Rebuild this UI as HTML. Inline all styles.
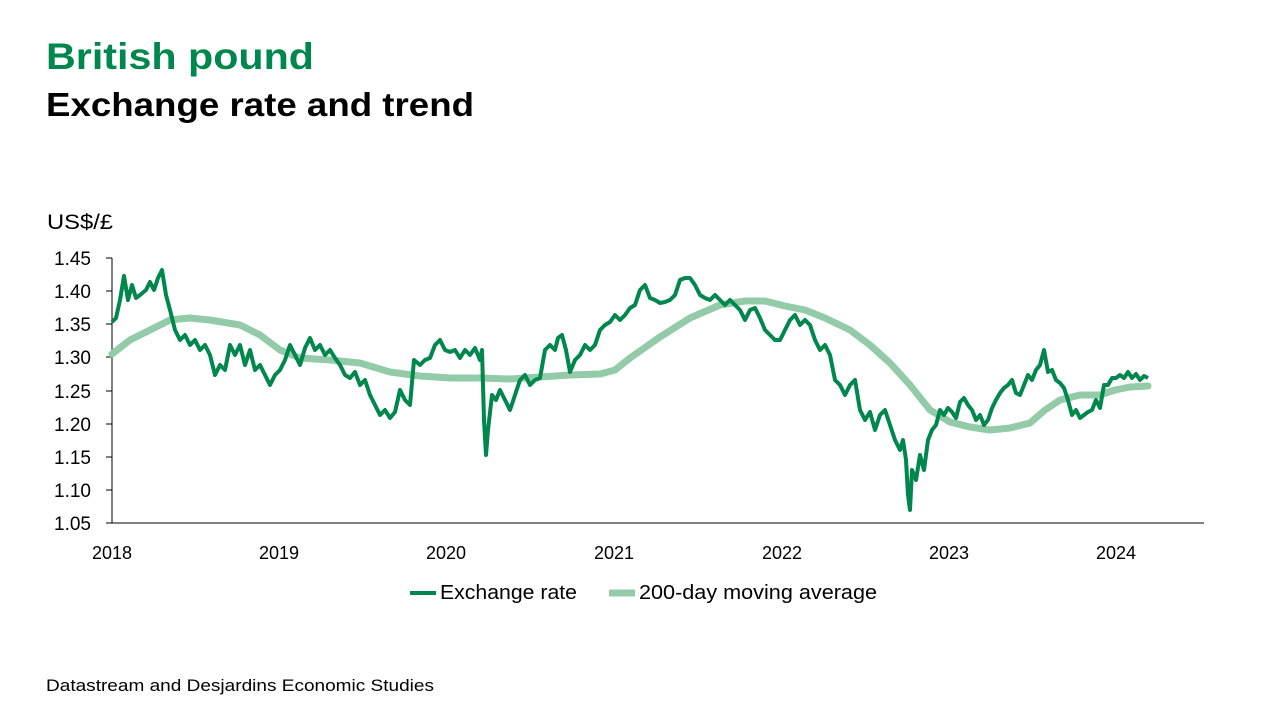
<!DOCTYPE html>
<html><head><meta charset="utf-8"><style>
body{margin:0;background:#fff;}
svg{display:block;font-family:"Liberation Sans",Arial,sans-serif;}
</style></head><body>
<svg width="1280" height="720" viewBox="0 0 1280 720" xmlns="http://www.w3.org/2000/svg">
<text x="46" y="69" font-size="37" font-weight="bold" fill="#00874e" textLength="268" lengthAdjust="spacingAndGlyphs">British pound</text>
<text x="46" y="116" font-size="33" font-weight="bold" fill="#000" textLength="428" lengthAdjust="spacingAndGlyphs">Exchange rate and trend</text>
<text x="47" y="229" font-size="21" fill="#000" textLength="66" lengthAdjust="spacingAndGlyphs">US$/£</text>
<g font-size="19" fill="#000" text-anchor="end">
<text x="91" y="265">1.45</text><text x="91" y="298">1.40</text><text x="91" y="331">1.35</text><text x="91" y="364">1.30</text><text x="91" y="398">1.25</text><text x="91" y="431">1.20</text><text x="91" y="464">1.15</text><text x="91" y="497">1.10</text><text x="91" y="530">1.05</text>
</g>
<g stroke="#000" stroke-width="1">
<line x1="112" y1="258" x2="112" y2="523"/><line x1="112" y1="523" x2="1204" y2="523"/>
<line x1="106" y1="258" x2="112" y2="258"/><line x1="106" y1="291" x2="112" y2="291"/><line x1="106" y1="324" x2="112" y2="324"/><line x1="106" y1="357" x2="112" y2="357"/><line x1="106" y1="391" x2="112" y2="391"/><line x1="106" y1="424" x2="112" y2="424"/><line x1="106" y1="457" x2="112" y2="457"/><line x1="106" y1="490" x2="112" y2="490"/><line x1="106" y1="523" x2="112" y2="523"/>
</g>
<g font-size="18" fill="#000" text-anchor="middle">
<text x="112" y="559">2018</text><text x="279" y="559">2019</text><text x="446" y="559">2020</text><text x="614" y="559">2021</text><text x="782" y="559">2022</text><text x="949" y="559">2023</text><text x="1116" y="559">2024</text>
</g>
<polyline fill="none" stroke="#93cba8" stroke-width="7" stroke-linejoin="round" stroke-linecap="round" points="112,354 130,340 150,330 170,320 190,318 210,320 240,325 260,335 280,350 300,358 330,360 360,363 390,372 420,376 450,378 480,378 510,379 540,377 570,375 600,374 615,370 630,358 660,337 690,318 720,305 745,301 765,301 785,306 805,310 825,318 850,330 870,345 890,363 910,385 930,410 950,422 970,427 990,430 1010,428 1030,423 1045,410 1060,400 1080,395 1100,395 1115,390 1130,387 1148,386"/>
<polyline fill="none" stroke="#00874e" stroke-width="4" stroke-linejoin="round" points="112,322 116,318 120,300 124,276 128,300 132,285 136,298 140,295 146,290 150,282 154,290 158,278 162,270 166,295 170,310 175,330 180,340 185,335 190,345 195,340 200,350 205,345 210,355 215,375 220,365 225,370 230,345 235,355 240,345 245,365 250,350 255,370 260,365 265,375 270,385 275,375 280,370 285,360 290,345 295,355 300,365 305,348 310,338 315,350 320,345 325,355 330,350 335,358 340,365 345,375 350,378 355,372 360,385 365,380 370,395 375,405 380,415 385,410 390,418 395,412 400,390 405,400 410,405 414,360 420,365 425,360 430,358 435,345 440,340 445,350 450,352 455,350 460,358 465,350 470,355 475,348 480,360 482,350 484,420 486,455 488,430 492,395 496,400 500,390 505,400 510,410 515,395 520,380 525,375 530,385 535,380 540,378 545,350 550,345 555,350 558,338 562,335 566,350 570,372 575,360 580,355 585,345 590,350 595,345 600,330 605,325 610,322 615,315 620,320 625,315 630,308 635,305 640,290 645,285 650,298 655,300 660,303 665,302 670,300 675,295 680,280 685,278 690,278 695,285 700,295 705,298 710,300 715,295 720,300 725,305 730,300 735,305 740,310 745,320 750,310 755,308 760,318 765,330 770,335 775,340 780,340 785,330 790,320 795,315 800,325 805,320 810,325 815,340 820,350 825,345 830,355 835,380 840,385 845,395 850,385 855,380 860,410 865,420 870,412 875,430 880,415 885,410 890,425 895,440 900,450 903,440 906,460 908,495 910,510 912,470 916,480 920,455 924,470 928,440 932,430 936,425 940,410 944,415 948,408 952,412 956,418 960,402 964,398 968,405 972,410 976,420 980,415 984,425 988,420 992,408 996,400 1000,393 1004,388 1008,385 1012,380 1016,393 1020,395 1024,385 1028,375 1032,380 1036,370 1040,365 1044,350 1048,372 1052,370 1056,380 1060,383 1064,388 1068,400 1072,415 1076,410 1080,418 1084,415 1088,412 1092,410 1096,400 1100,408 1104,385 1108,385 1112,378 1116,378 1120,375 1124,378 1128,372 1132,378 1136,374 1140,380 1144,376 1148,378"/>
<line x1="410" y1="593" x2="436" y2="593" stroke="#00874e" stroke-width="4"/>
<text x="440" y="599" font-size="20" fill="#000" textLength="137" lengthAdjust="spacingAndGlyphs">Exchange rate</text>
<line x1="609" y1="593" x2="635" y2="593" stroke="#93cba8" stroke-width="7"/>
<text x="639" y="599" font-size="20" fill="#000" textLength="238" lengthAdjust="spacingAndGlyphs">200-day moving average</text>
<text x="46" y="691" font-size="17" fill="#000" textLength="388" lengthAdjust="spacingAndGlyphs">Datastream and Desjardins Economic Studies</text>
</svg>
</body></html>
